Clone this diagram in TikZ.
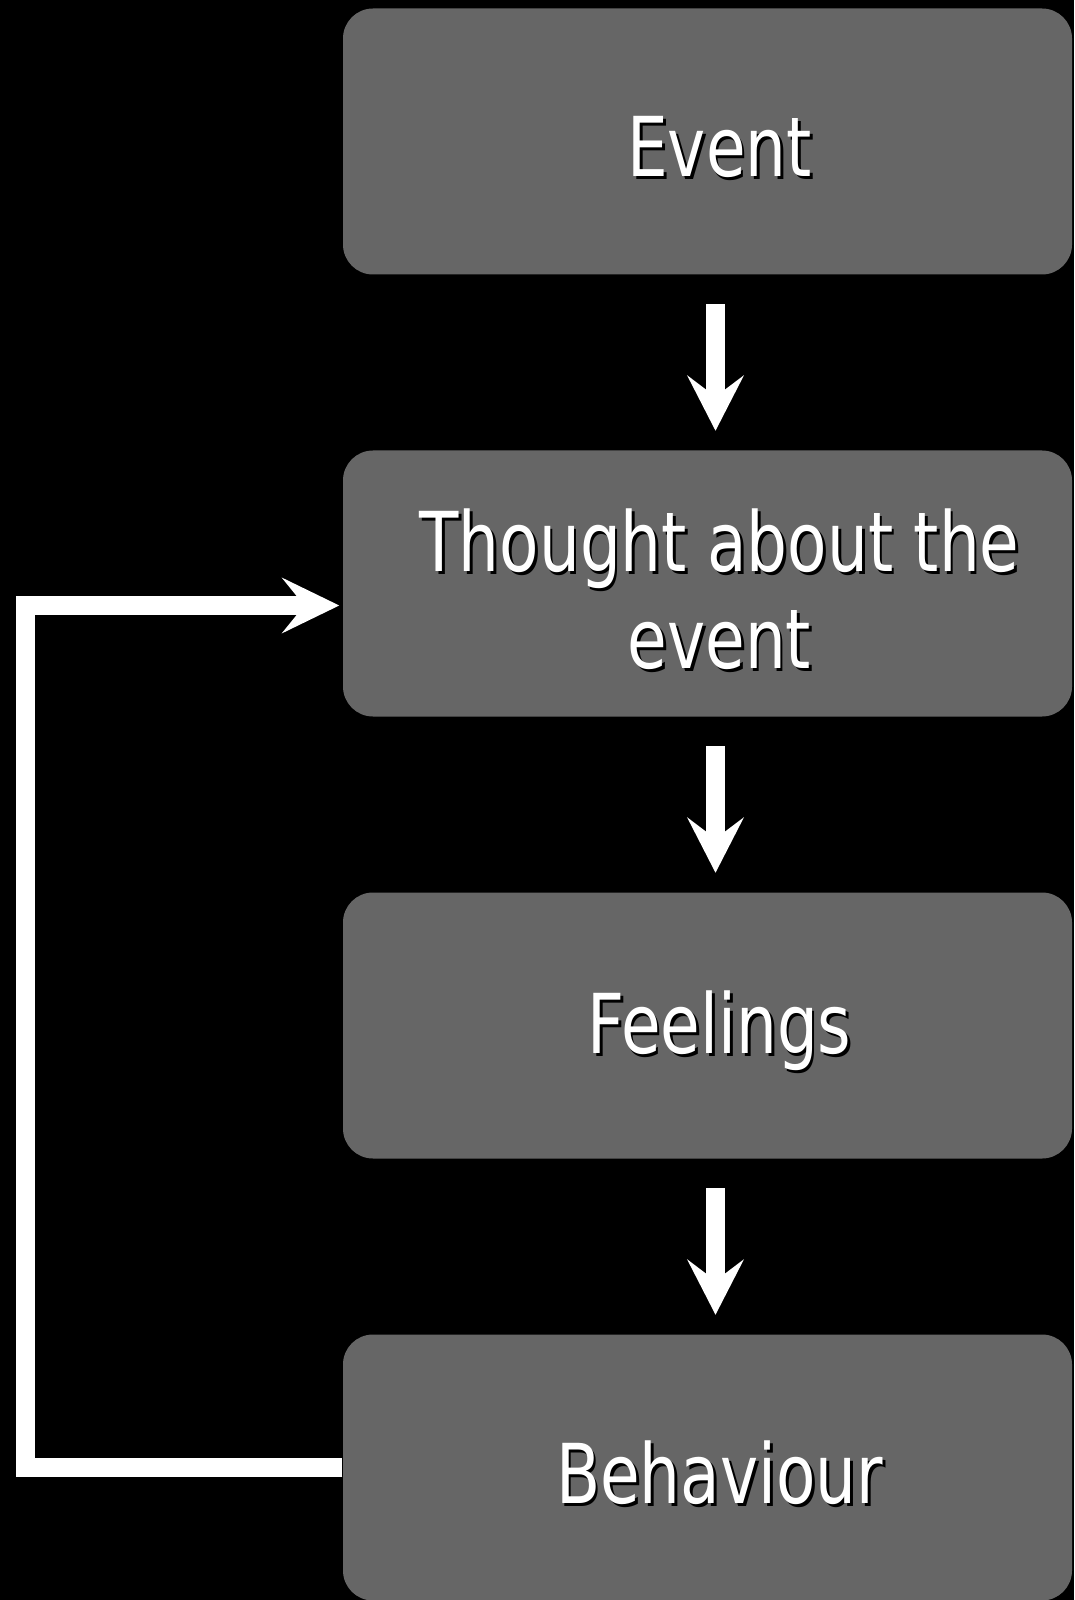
\documentclass[tikz,border=0pt]{standalone}
\usepackage{fontspec}
\setmainfont[FakeStretch=0.78]{DejaVu Sans}
\usepackage{xcolor}
\usepackage{tikz}
\usetikzlibrary{arrows.meta}

\definecolor{boxgray}{HTML}{666666}
% white text with a small black drop shadow, set a little right and low
\newcommand{\shadowed}[1]{\leavevmode\hspace*{2.4mm}%
  \raisebox{-2pt}[\height][\depth]{\rlap{\kern0.8pt\raisebox{-0.8pt}{\textcolor{black}{#1}}}#1}}

\begin{document}
\begin{tikzpicture}[>=latex, node distance=4.42cm,
    stagebox/.style={rounded corners=0.3cm, fill=boxgray, text=white,
      minimum width=7.29cm, minimum height=2.66cm, align=center,
      font=\fontsize{23.5}{27.6}\selectfont},
    flowarrow/.style={white, line width=0.19cm,
      -{Stealth[length=0.55cm, width=0.56cm, inset=0.21cm]},
      shorten <=0.29cm, shorten >=0.19cm},
    looparrow/.style={white, line width=0.19cm,
      -{Stealth[length=0.57cm, width=0.55cm, inset=0.22cm]},
      shorten >=0.03cm}]
  \fill[black] (0,0) rectangle (10.74,-16);
  \useasboundingbox (0,0) rectangle (10.74,-16);

  \node[stagebox] (event) at (7.075,-1.415) {\shadowed{Event}};
  \node[stagebox, below of=event] (thought)
    {\shadowed{Thought about the}\\\shadowed{event}};
  \node[stagebox, below of=thought] (feelings) {\shadowed{Feelings}};
  \node[stagebox, below of=feelings] (behaviour) {\shadowed{Behaviour}};

  \foreach \a/\b in {event/thought, thought/feelings, feelings/behaviour}
    \draw[flowarrow] ([xshift=0.8mm]\a.south) -- ([xshift=0.8mm]\b.north);

  % back from behaviour to thought
  \coordinate (bend) at (0.25,0);
  \draw[looparrow] (behaviour.west) -- (behaviour.west -| bend)
    |- ([yshift=-2.2mm]thought.west);
\end{tikzpicture}
\end{document}
